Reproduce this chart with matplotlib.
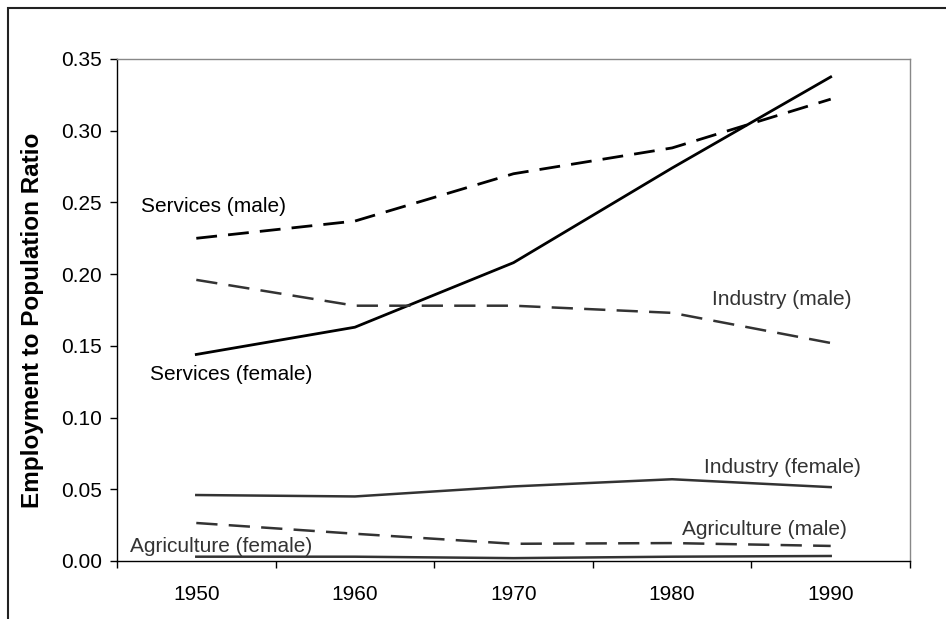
import matplotlib
matplotlib.use("Agg")
import matplotlib.pyplot as plt
from matplotlib.patches import Rectangle
import numpy as np

plt.rcParams['font.family'] = ['Liberation Sans', 'DejaVu Sans']

years = ["1950", "1960", "1970", "1980", "1990"]
services_female = [0.144, 0.163, 0.208, 0.274, 0.3375]
services_male = [0.225, 0.237, 0.270, 0.288, 0.322]
industry_male = [0.196, 0.178, 0.178, 0.173, 0.152]
industry_female = [0.046, 0.045, 0.052, 0.057, 0.0515]
agri_male = [0.0265, 0.019, 0.012, 0.0125, 0.0105]
agri_female = [0.003, 0.003, 0.002, 0.003, 0.0035]
yticks = [0.00, 0.05, 0.10, 0.15, 0.20, 0.25, 0.30, 0.35]

fig = plt.figure(figsize=(9.46, 6.19), dpi=100)
ax = fig.add_axes([117/946, 58/619, (910-117)/946, (561-59)/619])

x = np.arange(len(years))
lw_s = 2.0
lw_o = 1.8
ax.plot(x, services_female, color='#000000', lw=lw_s)
ax.plot(x, services_male, color='#000000', lw=lw_s, ls=(0, (7.5, 4)))
ax.plot(x, industry_male, color='#333333', lw=lw_o, ls=(0, (8.5, 4.5)))
ax.plot(x, industry_female, color='#333333', lw=lw_o)
ax.plot(x, agri_male, color='#333333', lw=lw_o, ls=(0, (8.5, 4.5)))
ax.plot(x, agri_female, color='#333333', lw=lw_o)

fs = 15
ax.text(-0.35, 0.2475, "Services (male)", fontsize=fs, color='#000000', va='center', ha='left')
ax.text(-0.29, 0.130, "Services (female)", fontsize=fs, color='#000000', va='center', ha='left')
ax.text(3.25, 0.182, "Industry (male)", fontsize=fs, color='#333333', va='center', ha='left')
ax.text(3.20, 0.0655, "Industry (female)", fontsize=fs, color='#333333', va='center', ha='left')
ax.text(3.06, 0.0223, "Agriculture (male)", fontsize=fs, color='#333333', va='center', ha='left')
ax.text(-0.415, 0.0098, "Agriculture (female)", fontsize=fs, color='#333333', va='center', ha='left')

ax.set_xlim(-0.5, len(years) - 0.5)
ax.set_ylim(0, 0.35)
ax.set_yticks(yticks)
ax.set_yticklabels([f"{v:.2f}" for v in yticks], fontsize=fs)
ax.set_xticks(np.arange(-0.5, len(years)))
ax.set_xticklabels([])
ax.set_xticks(x, minor=True)
ax.set_xticklabels(years, minor=True, fontsize=fs)
ax.tick_params(axis='x', which='major', direction='out', length=5, width=1, color='#000000')
ax.tick_params(axis='x', which='minor', length=0, pad=17)
ax.tick_params(axis='y', direction='out', length=5, width=1, color='#000000', pad=6)

fig.text(33/946, 1 - 320/619, "Employment to Population Ratio", rotation=90,
         fontsize=17.5, fontweight='bold', ha='center', va='center')

for s in ['left', 'bottom']:
    ax.spines[s].set_color('#000000')
    ax.spines[s].set_linewidth(1.0)
for s in ['top', 'right']:
    ax.spines[s].set_color('#888888')
    ax.spines[s].set_linewidth(1.0)

frame = Rectangle((8/946, -0.2), 1.5, 1.2 - 8/619, transform=fig.transFigure,
                  fill=False, edgecolor='#222222', linewidth=1.5, clip_on=False)
fig.patches.append(frame)

fig.savefig("out.png", dpi=100)
